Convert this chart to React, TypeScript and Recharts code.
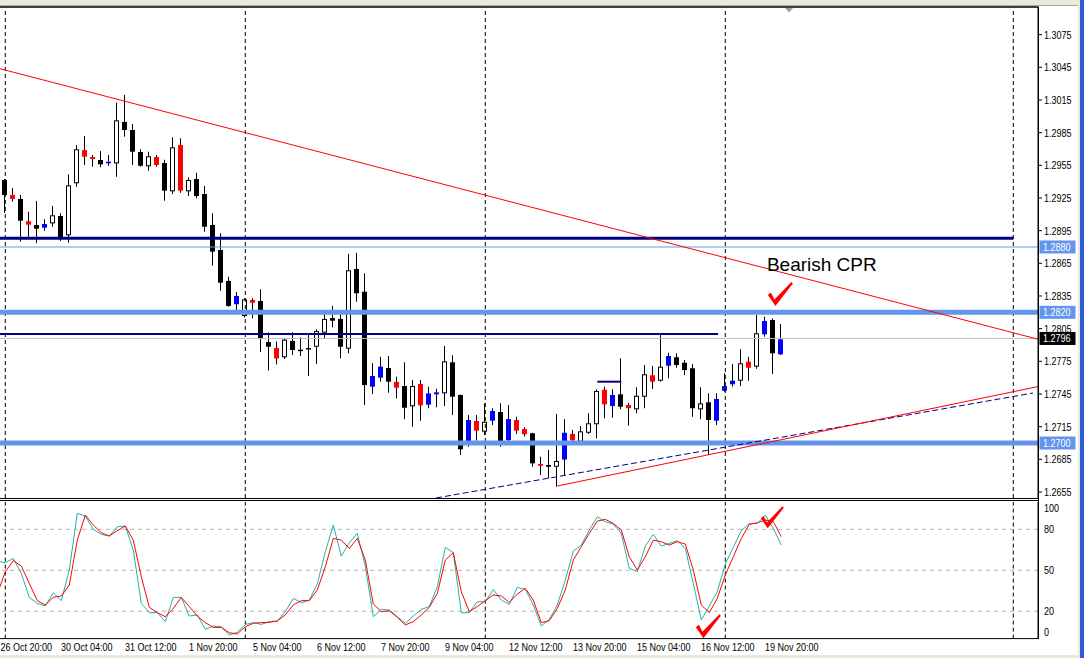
import React from 'react';
import { ComposedChart, Bar, Line, XAxis, YAxis, ReferenceLine, ReferenceDot } from 'recharts';

const FONT = "'Liberation Sans', Arial, sans-serif";
const SX = 0.82;

// H4 bars, index -1 .. 97 (index 0 = 26 Oct 20:00)
const opens = [1.29277,1.29415,1.29277,1.29241,1.29036,1.29002,1.28977,1.29017,1.29084,1.28907,1.29385,1.29690,1.29626,1.29599,1.29568,1.29568,1.29948,1.29874,1.29672,1.29541,1.29626,1.29571,1.29311,1.29736,1.29311,1.29424,1.29286,1.29002,1.28772,1.28488,1.28274,1.28166,1.28313,1.28304,1.27927,1.27872,1.27787,1.27937,1.27857,1.27872,1.27884,1.28013,1.28148,1.28139,1.27866,1.28598,1.28389,1.27517,1.27600,1.27689,1.27560,1.27523,1.27337,1.27542,1.27352,1.27447,1.27456,1.27741,1.27441,1.27012,1.27202,1.27104,1.27205,1.27285,1.27027,1.27211,1.27128,1.27089,1.26807,1.26798,1.26782,1.26848,1.27083,1.27012,1.27094,1.27172,1.27489,1.27340,1.27447,1.27349,1.27309,1.27425,1.27622,1.27572,1.27710,1.27787,1.27737,1.27686,1.27309,1.27374,1.27205,1.27480,1.27539,1.27572,1.27746,1.27701,1.27998,1.28129,1.27814];
const highs = [1.29387,1.29424,1.29342,1.29277,1.29124,1.29222,1.29054,1.29176,1.29109,1.29467,1.29736,1.29819,1.29645,1.29681,1.29645,1.30125,1.30196,1.29929,1.29697,1.29675,1.29645,1.29601,1.29807,1.29798,1.29440,1.29482,1.29360,1.29109,1.28926,1.28527,1.28387,1.28329,1.28329,1.28411,1.28015,1.27932,1.27961,1.28016,1.27971,1.27998,1.28044,1.28184,1.28261,1.28184,1.28736,1.28747,1.28558,1.27732,1.27792,1.27799,1.27609,1.27741,1.27578,1.27578,1.27517,1.27499,1.27891,1.27805,1.27445,1.27257,1.27257,1.27364,1.27319,1.27364,1.27349,1.27241,1.27144,1.27094,1.26874,1.26936,1.27266,1.27218,1.27119,1.27156,1.27273,1.27493,1.27517,1.27493,1.27778,1.27370,1.27511,1.27716,1.27707,1.28007,1.27829,1.27824,1.27762,1.27725,1.27511,1.27456,1.27456,1.27640,1.27725,1.27860,1.27792,1.28175,1.28160,1.28145,1.28093];
const lows = [1.29259,1.29112,1.29216,1.28849,1.28894,1.28834,1.28949,1.28986,1.28855,1.28839,1.29353,1.29553,1.29537,1.29532,1.29546,1.29445,1.29813,1.29553,1.29537,1.29500,1.29537,1.29225,1.29286,1.29298,1.29268,1.29247,1.28940,1.28628,1.28398,1.28252,1.28221,1.28154,1.28145,1.27836,1.27666,1.27721,1.27771,1.27808,1.27799,1.27615,1.27725,1.27955,1.28062,1.27778,1.27824,1.28297,1.27349,1.27450,1.27563,1.27462,1.27410,1.27218,1.27150,1.27205,1.27319,1.27328,1.27340,1.27257,1.26890,1.26966,1.27021,1.27073,1.27165,1.26966,1.26991,1.27083,1.27058,1.26782,1.26706,1.26676,1.26599,1.26706,1.26997,1.27003,1.27083,1.27043,1.27227,1.27232,1.27309,1.27159,1.27273,1.27319,1.27496,1.27563,1.27594,1.27691,1.27624,1.27241,1.27218,1.26890,1.27165,1.27471,1.27517,1.27523,1.27572,1.27682,1.27976,1.27634,1.27808];
const closes = [1.29369,1.29277,1.29241,1.29041,1.29005,1.28968,1.29011,1.29091,1.28889,1.29366,1.29697,1.29629,1.29608,1.29559,1.29583,1.29963,1.29874,1.29675,1.29546,1.29633,1.29553,1.29317,1.29715,1.29317,1.29415,1.29268,1.28986,1.28757,1.28472,1.28258,1.28350,1.28319,1.28288,1.27955,1.27884,1.27776,1.27949,1.27854,1.27851,1.27860,1.28028,1.28139,1.28123,1.27884,1.28586,1.28375,1.27532,1.27615,1.27701,1.27563,1.27508,1.27324,1.27523,1.27346,1.27456,1.27465,1.27750,1.27425,1.26942,1.27211,1.27113,1.27195,1.27294,1.27018,1.27220,1.27113,1.27080,1.26813,1.26791,1.26782,1.26835,1.27094,1.27025,1.27107,1.27181,1.27477,1.27355,1.27441,1.27333,1.27319,1.27434,1.27631,1.27563,1.27701,1.27799,1.27716,1.27670,1.27319,1.27364,1.27211,1.27404,1.27523,1.27572,1.27732,1.27691,1.28007,1.28120,1.27824,1.27952];
// bars highlighted by the colour-bar indicator
const signalBars = [-1,1,3,5,10,11,13,19,22,29,31,34,46,47,49,52,53,54,58,59,61,63,64,65,67,70,71,75,76,78,81,83,89,90,91,93,95,97];

// Stochastic oscillator
const stochMain = [56.7,55.5,58.7,47.8,30.2,25.8,23.9,33.6,27.8,50.2,91.7,89.7,80.0,76.3,75.1,81.9,82.4,64.8,25.8,19.0,19.0,12.4,30.2,30.2,16.5,17.3,6.8,9.2,8.7,2.6,4.6,10.4,11.7,10.4,12.4,12.9,19.7,29.5,26.3,28.2,40.0,63.6,83.1,60.4,70.2,77.0,53.1,16.0,21.4,20.9,16.0,11.2,16.5,21.4,23.4,38.0,66.8,62.9,19.0,19.0,27.0,27.0,36.0,28.2,25.1,37.5,36.0,24.6,9.2,14.1,24.6,42.9,64.1,68.5,79.5,89.2,85.6,83.8,77.0,51.4,49.0,67.8,76.3,67.8,69.7,71.7,66.0,40.4,13.6,23.9,34.3,54.6,66.8,79.0,84.3,84.3,90.4,80.7,68.5];
const stochSignal = [32.6,49.0,57.0,53.1,40.4,27.8,24.6,30.2,31.2,39.2,72.1,90.4,83.1,77.5,75.1,79.0,82.4,72.1,45.3,22.9,19.0,16.0,22.1,30.2,23.4,16.5,11.7,8.2,8.2,4.3,3.4,8.7,11.2,11.7,11.9,12.9,17.3,24.6,27.8,27.8,35.6,52.6,73.4,72.1,66.0,73.4,57.5,25.3,19.7,20.4,15.6,10.0,12.4,17.3,22.9,33.1,57.5,62.9,34.3,19.7,23.4,27.8,31.9,31.2,26.5,32.6,36.8,28.2,11.7,13.1,22.1,35.6,57.5,67.3,77.0,86.0,87.3,84.3,79.5,59.9,50.2,59.9,72.1,70.9,68.5,70.9,69.2,50.2,24.6,19.0,29.5,46.5,59.9,73.4,83.6,84.8,86.8,85.6,74.6];

const timeLabels = ['26 Oct 20:00','30 Oct 04:00','31 Oct 12:00','1 Nov 20:00','5 Nov 04:00','6 Nov 12:00','7 Nov 20:00','9 Nov 04:00','12 Nov 12:00','13 Nov 20:00','15 Nov 04:00','16 Nov 12:00','19 Nov 20:00'];
const timeTicks = [0,8,16,24,32,40,48,56,64,72,80,88,96];
const gridBars = [0,30,60,90,126];
const priceTicks = [1.3075,1.3045,1.3015,1.2985,1.2955,1.2925,1.2895,1.2865,1.2835,1.2805,1.2775,1.2745,1.2715,1.2685,1.2655];
const stochTicks = [0,20,50,80,100];
const stochLevels = [20,50,80];

// levels & trend lines (price / bar index)
const resistanceTop = 1.2888;
const pivotLevel = 1.2880;
const cprLevel = 1.2820;
const midLevel = 1.2800;
const currentPrice = 1.2796;
const supportLevel = 1.2700;
const minorLevel = 1.27563;
const downTrend = [{ x: -0.6625, y: 1.30437 }, { x: 129.0875, y: 1.27953 }];
const upTrend = [{ x: 69, y: 1.26605 }, { x: 129.0875, y: 1.27518 }];
const channelLine = [{ x: 53.84, y: 1.26495 }, { x: 128.46, y: 1.27459 }];

const data = opens.map((o, k) => {
  const i = k - 1;
  return {
    i,
    range: [lows[k], highs[k]],
    o, h: highs[k], l: lows[k], c: closes[k],
    m: signalBars.includes(i),
    sk: stochMain[k],
    sd: stochSignal[k],
  };
});

const X_DOMAIN: [number, number] = [-0.6625, 129.0875];
const P_DOMAIN: [number, number] = [1.26495, 1.30999];

const NAVY = '#000080';
const CORN = '#6495ED';

const Candle = (props: any) => {
  const { x, y, width, height, payload } = props;
  if (x == null || !payload) return null;
  const cx = Math.floor(x + width / 2) + 0.5;
  const top = Math.min(y, y + height);
  const bot = Math.max(y, y + height);
  const { h, l, o, c, m } = payload;
  const py = (v: number) => (h === l ? top : top + ((h - v) / (h - l)) * (bot - top));
  const bull = c >= o;
  const yo = py(o);
  const yc = py(c);
  const bt = Math.min(yo, yc);
  const bb = Math.max(yo, yc);
  let body;
  if (m) {
    body = <rect x={cx - 2.5} y={bt} width={5} height={Math.max(bb - bt, 1.5)} fill={bull ? '#0000FF' : '#FF0000'} />;
  } else if (bull) {
    body = <rect x={cx - 2} y={bt + 0.5} width={4} height={Math.max(bb - bt - 1, 0.5)} fill="#FFFFFF" stroke="#000" strokeWidth={1} />;
  } else {
    body = <rect x={cx - 2.5} y={bt} width={5} height={Math.max(bb - bt, 1.5)} fill="#000" />;
  }
  return (
    <g>
      <line x1={cx} x2={cx} y1={top} y2={bot} stroke="#000" strokeWidth={1} />
      {body}
    </g>
  );
};

const NarrowText = ({ x, y, fill = '#000', children, dy }: any) => (
  <g transform={`translate(${x},${y}) scale(${SX},1)`}>
    <text x={0} y={0} dy={dy} fill={fill} fontSize={11} fontFamily={FONT}>{children}</text>
  </g>
);

const PriceTag = (props: any) => {
  const { viewBox, text, bg } = props;
  if (!viewBox) return null;
  const bx = viewBox.x + viewBox.width + 1.5;
  const yy = viewBox.y;
  return (
    <g>
      <rect x={bx} y={yy - 6.5} width={36} height={13} fill={bg} />
      <NarrowText x={bx + 3.5} y={yy + 4} fill="#fff">{text}</NarrowText>
    </g>
  );
};

const Check = (scale: number) => (p: any) => {
  const { cx, cy } = p;
  if (cx == null) return null;
  const pts = [[-7, -11], [-4, -13.5], [-0.5, -6.5], [16.5, -24], [18, -22.5], [0.5, 0]]
    .map(([a, b]) => `${cx + a * scale},${cy + b * scale}`).join(' ');
  return <polygon points={pts} fill="#FF0000" />;
};

const BearText = (p: any) => (
  <text x={p.cx} y={p.cy} fontSize={19} fontFamily={FONT} fill="#000">Bearish CPR</text>
);

const PriceTick = (props: any) => {
  const { x, y, payload } = props;
  return <NarrowText x={x} y={y} dy="0.355em">{Number(payload.value).toFixed(4)}</NarrowText>;
};

const StochTick = (props: any) => {
  const { x, y, payload } = props;
  const yy = Math.max(8, Math.min(y, 132));
  return <NarrowText x={x} y={yy} dy="0.355em">{payload.value}</NarrowText>;
};

const TimeTick = (props: any) => {
  const { x, y, payload } = props;
  const label = timeLabels[timeTicks.indexOf(payload.value)];
  const tx = Math.max(x - 8.3, 0.5);
  return <NarrowText x={tx} y={y + 12}>{label}</NarrowText>;
};

export default function App() {
  return (
    <div style={{ position: 'absolute', left: 0, top: 0, width: 1084, height: 658, background: '#fff', overflow: 'hidden' }}>
      <div style={{ position: 'absolute', left: 0, top: 0 }}>
        <ComposedChart width={1084} height={500} data={data} margin={{ top: 7.5, right: 0, bottom: 2, left: 0 }}>
          <XAxis dataKey="i" type="number" domain={X_DOMAIN} allowDataOverflow hide />
          <YAxis
            orientation="right"
            type="number"
            domain={P_DOMAIN}
            allowDataOverflow
            ticks={priceTicks}
            interval={0}
            width={46}
            tickSize={4}
            tickMargin={2}
            tickLine={{ stroke: '#000' }}
            axisLine={{ stroke: '#000' }}
            tick={PriceTick}
          />
          {gridBars.map((g) => (
            <ReferenceLine key={'g' + g} x={g} stroke="#000" strokeDasharray="4 3" ifOverflow="visible" />
          ))}
          <ReferenceLine y={currentPrice} stroke="#C0C0C0" strokeWidth={1} label={<PriceTag text={currentPrice.toFixed(4)} bg="#000" />} />
          <ReferenceLine y={pivotLevel} stroke={CORN} strokeWidth={1} label={<PriceTag text={pivotLevel.toFixed(4)} bg={CORN} />} />
          <ReferenceLine y={cprLevel} stroke={CORN} strokeWidth={5} label={<PriceTag text={cprLevel.toFixed(4)} bg={CORN} />} />
          <ReferenceLine y={supportLevel} stroke={CORN} strokeWidth={5} label={<PriceTag text={supportLevel.toFixed(4)} bg={CORN} />} />
          <ReferenceLine segment={[{ x: X_DOMAIN[0], y: resistanceTop }, { x: 126, y: resistanceTop }]} stroke={NAVY} strokeWidth={3} ifOverflow="visible" />
          <ReferenceLine segment={[{ x: X_DOMAIN[0], y: midLevel }, { x: 89.1, y: midLevel }]} stroke={NAVY} strokeWidth={2} ifOverflow="visible" />
          <ReferenceLine segment={[{ x: 74, y: minorLevel }, { x: 77, y: minorLevel }]} stroke={NAVY} strokeWidth={2} ifOverflow="visible" />
          <ReferenceLine segment={downTrend} stroke="#FF0000" strokeWidth={1} ifOverflow="hidden" />
          <ReferenceLine segment={channelLine} stroke={NAVY} strokeWidth={1} strokeDasharray="6 3" ifOverflow="hidden" />
          <ReferenceLine segment={upTrend} stroke="#FF0000" strokeWidth={1} ifOverflow="hidden" />
          <Bar dataKey="range" shape={Candle} barSize={5} isAnimationActive={false} />
          <ReferenceDot x={95.2} y={1.28579} r={0} ifOverflow="visible" shape={BearText} />
          <ReferenceDot x={96.2} y={1.28258} r={0} ifOverflow="visible" shape={Check(1)} />
        </ComposedChart>
      </div>
      <div style={{ position: 'absolute', left: 0, top: 500 }}>
        <ComposedChart width={1084} height={158} data={data} margin={{ top: 2, right: 0, bottom: 0, left: 0 }}>
          <XAxis
            dataKey="i"
            type="number"
            domain={X_DOMAIN}
            allowDataOverflow
            ticks={timeTicks}
            interval={0}
            height={19.4}
            tickSize={0}
            tickMargin={0}
            tickLine={false}
            axisLine={{ stroke: '#000' }}
            tick={TimeTick}
          />
          <YAxis
            orientation="right"
            type="number"
            domain={[0, 100]}
            allowDataOverflow
            ticks={stochTicks}
            interval={0}
            width={46}
            tickSize={4}
            tickMargin={2}
            tickLine={false}
            axisLine={{ stroke: '#000' }}
            tick={StochTick}
          />
          {stochLevels.map((lv) => (
            <ReferenceLine key={'s' + lv} y={lv} stroke="#B4B4B4" strokeDasharray="4 4" />
          ))}
          {gridBars.map((g) => (
            <ReferenceLine key={'sg' + g} x={g} stroke="#000" strokeDasharray="4 3" ifOverflow="visible" />
          ))}
          <Line type="linear" dataKey="sk" stroke="#20B2AA" strokeWidth={1} dot={false} isAnimationActive={false} />
          <Line type="linear" dataKey="sd" stroke="#FF0000" strokeWidth={1} dot={false} isAnimationActive={false} />
          <ReferenceDot x={87.2} y={0.2} r={0} ifOverflow="visible" shape={Check(1)} />
          <ReferenceDot x={95.25} y={80.7} r={0} ifOverflow="visible" shape={Check(0.92)} />
        </ComposedChart>
      </div>
      <svg width={1084} height={658} style={{ position: 'absolute', left: 0, top: 0, pointerEvents: 'none' }}>
        <rect x={0} y={0} width={1084} height={5.5} fill="#ECE9D8" />
        <line x1={0} x2={1084} y1={5.5} y2={5.5} stroke="#ACA899" />
        <line x1={0} x2={1038.5} y1={7} y2={7} stroke="#000" strokeWidth={1.5} />
        <line x1={0} x2={1038.5} y1={498.5} y2={498.5} stroke="#000" />
        <line x1={0} x2={1038.5} y1={500.5} y2={500.5} stroke="#000" />
        <line x1={1038.5} x2={1038.5} y1={7} y2={639} stroke="#000" />
        <polygon points="785,8 793,8 789,12.5" fill="#A0A0A0" />
        <rect x={1078} y={0} width={2} height={658} fill="#ECE9D8" />
        <rect x={1080} y={0} width={4} height={658} fill="#2A5FD8" />
        <rect x={0} y={655} width={1080} height={3} fill="#ECE9D8" />
      </svg>
    </div>
  );
}
